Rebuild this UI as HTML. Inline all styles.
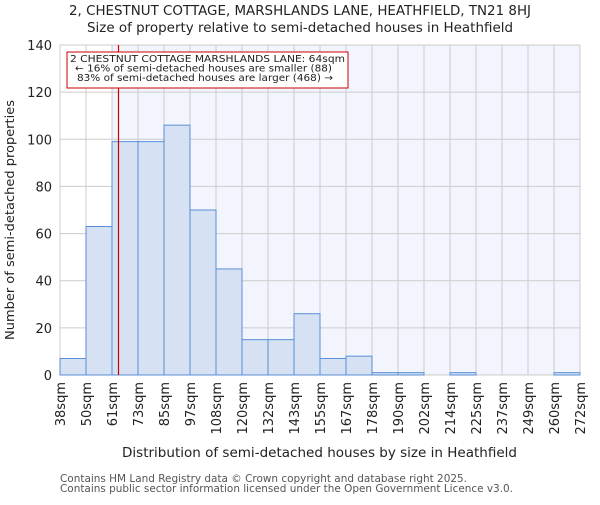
<!DOCTYPE html>
<html><head><meta charset="utf-8"><style>
body{margin:0;background:#fff}
svg text{font-family:"DejaVu Sans","Liberation Sans",sans-serif;fill:#222}
</style></head><body>
<svg id="chart" width="600" height="500" xmlns="http://www.w3.org/2000/svg">
<text x="69" y="15" font-size="13" textLength="462" lengthAdjust="spacingAndGlyphs">2, CHESTNUT COTTAGE, MARSHLANDS LANE, HEATHFIELD, TN21 8HJ</text>
<text x="87" y="32" font-size="13" textLength="426" lengthAdjust="spacingAndGlyphs">Size of property relative to semi-detached houses in Heathfield</text>
<g id="plot"></g>
<text x="122" y="457" font-size="13" textLength="395" lengthAdjust="spacingAndGlyphs">Distribution of semi-detached houses by size in Heathfield</text>
<text transform="translate(14,340) rotate(-90)" font-size="12.5" textLength="240" lengthAdjust="spacingAndGlyphs">Number of semi-detached properties</text>
<text x="60" y="482" font-size="10.3" fill="#555" style="fill:#555" textLength="407" lengthAdjust="spacingAndGlyphs">Contains HM Land Registry data © Crown copyright and database right 2025.</text>
<text x="60" y="492" font-size="10.3" style="fill:#555" textLength="453" lengthAdjust="spacingAndGlyphs">Contains public sector information licensed under the Open Government Licence v3.0.</text>
</svg>
<script>
const binLabels=["38sqm","50sqm","61sqm","73sqm","85sqm","97sqm","108sqm","120sqm","132sqm","143sqm","155sqm","167sqm","178sqm","190sqm","202sqm","214sqm","225sqm","237sqm","249sqm","260sqm","272sqm"];
const counts=[7,63,99,99,106,70,45,15,15,26,7,8,1,1,0,1,0,0,0,1];
const yTicks=[0,20,40,60,80,100,120,140];
const propertyBinPos=2.25;
const NS="http://www.w3.org/2000/svg";
const L=60,R=580,T=45,B=375,yMax=140;
const bw=(R-L)/counts.length;
const xs=i=>L+i*bw;
const ys=v=>B-(v/yMax)*(B-T);
const g=document.getElementById('plot');
function mk(t,a){const e=document.createElementNS(NS,t);for(const k in a)e.setAttribute(k,a[k]);g.appendChild(e);return e;}
let e;
e=mk('rect',{x:L,y:T,width:R-L,height:B-T,fill:'#fff'});


e=mk('rect',{x:xs(Math.floor(propertyBinPos)),y:T,width:R-xs(Math.floor(propertyBinPos)),height:B-T,fill:'#f2f5fd'});


for(let i=0;i<=counts.length;i++){e=mk('line',{x1:xs(i),x2:xs(i),y1:T,y2:B,stroke:'#cccccc'});

}
yTicks.forEach(v=>{e=mk('line',{x1:L,x2:R,y1:ys(v),y2:ys(v),stroke:'#cccccc'});


const t=mk('text',{x:L-8,y:ys(v)+5,'text-anchor':'end','font-size':'13'});t.textContent=v;

});
counts.forEach((c,i)=>{e=mk('rect',{x:xs(i),y:ys(c),width:bw,height:B-ys(c),fill:'#d6e1f3',stroke:'#5b8fd6','stroke-width':1});

});
binLabels.forEach((l,i)=>{const t=mk('text',{transform:`translate(${xs(i)+5},382) rotate(-90)`,'text-anchor':'end','font-size':'13'});t.textContent=l;

});
const px=xs(propertyBinPos);
e=mk('line',{x1:px,x2:px,y1:T,y2:B,stroke:'#cc0000','stroke-width':1.2});


e=mk('rect',{x:67,y:52,width:281,height:36,fill:'#fff',stroke:'#cc0000','stroke-width':1});


[["2 CHESTNUT COTTAGE MARSHLANDS LANE: 64sqm",70,62,275],["← 16% of semi-detached houses are smaller (88)",75,71.5,257],["83% of semi-detached houses are larger (468) →",77,81,256]].forEach(([s,x,y,w])=>{const t=mk('text',{x:x,y:y,'font-size':'10',textLength:w,lengthAdjust:'spacingAndGlyphs'});t.textContent=s;

});
</script>
</body></html>
